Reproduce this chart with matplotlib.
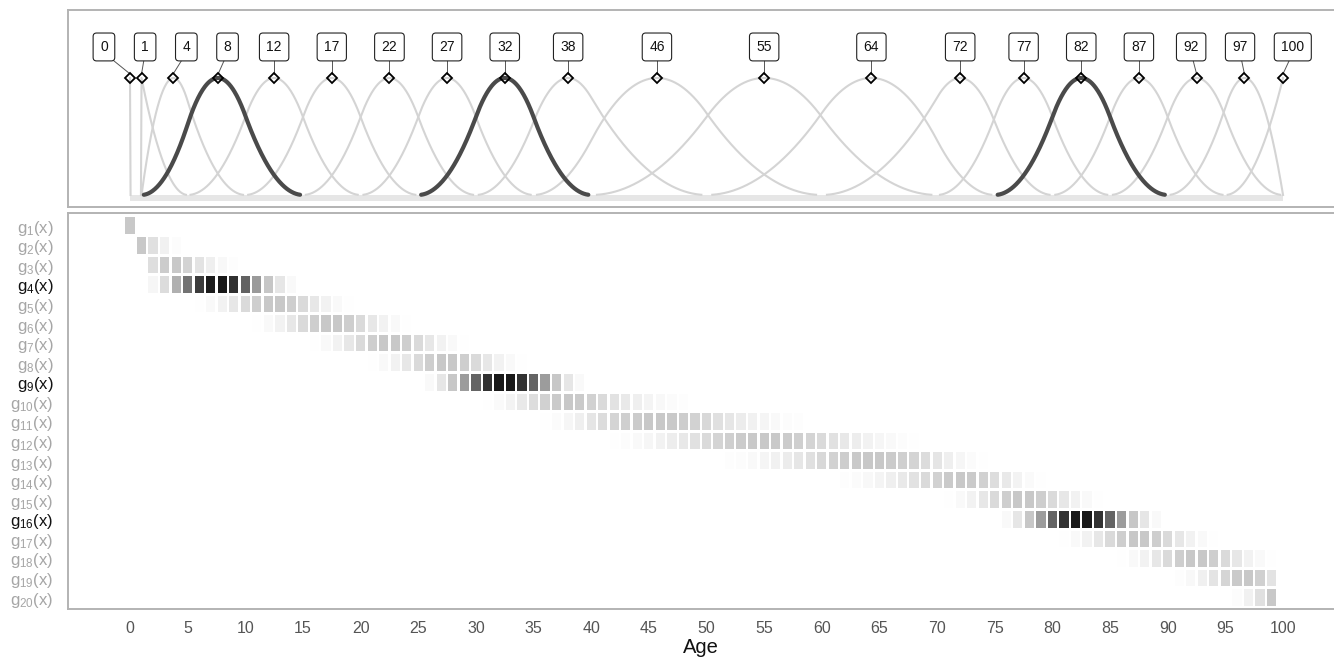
import numpy as np
import matplotlib
matplotlib.use("Agg")
import matplotlib.pyplot as plt

plt.rcParams['font.family'] = ['Liberation Sans', 'DejaVu Sans']
plt.rcParams['mathtext.fontset'] = 'custom'
plt.rcParams['mathtext.rm'] = 'Liberation Sans'
plt.rcParams['mathtext.it'] = 'Liberation Sans'

# ages shown in the heatmap
ages = np.arange(0, 100)
# label over each basis function (age at its peak)
peak_labels = [0, 1, 4, 8, 12, 17, 22, 27, 32, 38, 46, 55, 64, 72, 77, 82, 87, 92, 97, 100]
# quadratic b-spline on [1, 100], g1 is the age-0 indicator
spline_degree = 2
spline_bounds = [1, 100]
inner_knots = [5, 10, 15, 20, 25, 30, 35, 40, 50, 60, 70, 75, 80, 85, 90, 95]
highlight = [4, 9, 16]
xticks = list(range(0, 101, 5))


def bspline_basis(x, t, k):
    t = np.asarray(t, float)
    B = np.zeros((len(x), len(t) - 1))
    for i in range(len(t) - 1):
        B[:, i] = (x >= t[i]) & (x < t[i + 1])
    last = np.nonzero(t[:-1] < t[1:])[0].max()
    B[x == t[-1], last] = 1
    for d in range(1, k + 1):
        Bn = np.zeros((len(x), len(t) - 1 - d))
        for i in range(len(t) - 1 - d):
            if t[i + d] > t[i]:
                Bn[:, i] += (x - t[i]) / (t[i + d] - t[i]) * B[:, i]
            if t[i + d + 1] > t[i + 1]:
                Bn[:, i] += (t[i + d + 1] - x) / (t[i + d + 1] - t[i + 1]) * B[:, i + 1]
        B = Bn
    return B


def basis(x):
    k = spline_degree
    knots = [spline_bounds[0]] * (k + 1) + inner_knots + [spline_bounds[1]] * (k + 1)
    bs = bspline_basis(x, knots, k)
    g1 = (x == 0).astype(float)
    out = np.column_stack([g1, bs])
    return out / out.max(axis=0)


xs = np.linspace(0, 100, 2001)
curves = basis(xs)
cells = basis(ages.astype(float))
n = curves.shape[1]

fig = plt.figure(figsize=(13.34, 6.62), dpi=100)
xlim = (-5.42, 104.42)
ax1 = fig.add_axes([0.0506, 0.6873, 0.9494, 0.2976])
ax2 = fig.add_axes([0.0506, 0.0801, 0.9494, 0.5982])

for ax in (ax1, ax2):
    ax.set_xlim(*xlim)
    for s in ax.spines.values():
        s.set_color('#b3b3b3')
        s.set_linewidth(1.4)
    ax.spines['right'].set_visible(False)

##### top panel: basis curves #####
ax1.set_ylim(-0.103, 1.581)
ax1.set_xticks([])
ax1.set_yticks([])
ax1.plot([0, 100], [-0.026, -0.026], color='#e6e6e6', lw=4.3, solid_capstyle='butt', zorder=1)

order = [i for i in range(n) if i + 1 not in highlight] + [i - 1 for i in highlight]
for i in order:
    y = curves[:, i]
    keep = y > 0.002
    keep = keep | np.roll(keep, 1) | np.roll(keep, -1)
    yy = np.where(keep, y, np.nan)
    if i + 1 in highlight:
        ax1.plot(xs, yy, color='#4a4a4a', lw=3.0, zorder=3, solid_capstyle='round')
    else:
        ax1.plot(xs, yy, color='#d4d4d4', lw=1.5, zorder=2)

peaks_x = xs[np.argmax(curves, axis=0)]
ax1.plot(peaks_x, np.ones(n), ls='none', marker='D', ms=5.2, mfc='none',
         mec='black', mew=1.3, zorder=5)

# push label boxes apart (least squares with minimum gaps, pool adjacent violators)
px_per_age = 1334 * 0.9494 / (xlim[1] - xlim[0])
widths = np.array([(len(str(l)) * 7.7 + 16) / px_per_age for l in peak_labels])
gap = 17.5 / px_per_age
need = np.concatenate([[0], np.cumsum((widths[:-1] + widths[1:]) / 2 + gap)])
target = peaks_x - need
blocks = []
for v in target:
    blocks.append([v, 1])
    while len(blocks) > 1 and blocks[-2][0] / blocks[-2][1] > blocks[-1][0] / blocks[-1][1]:
        s, c = blocks.pop()
        blocks[-1][0] += s
        blocks[-1][1] += c
fit = np.concatenate([[s / c] * c for s, c in blocks])
box_x = fit + need

box_y = 1.265
for i, lab in enumerate(peak_labels):
    ax1.plot([box_x[i], peaks_x[i]], [box_y - 0.05, 1.035], color='#555555', lw=0.7, zorder=4)
    ax1.text(box_x[i], box_y, str(lab), ha='center', va='center', fontsize=10, color='#111111',
             zorder=6, bbox=dict(boxstyle='round,pad=0.5,rounding_size=0.25', fc='white',
                                 ec='#222222', lw=0.8))

##### bottom panel: heatmap of basis values at each age #####
ax2.set_ylim(19.58, -0.65)
for i in range(n):
    v = cells[:, i]
    m = v > 0.005
    if i + 1 in highlight:
        top = 25 / 255
    else:
        top = 200 / 255
    c = 1 - v[m] * (1 - top)
    cols = np.column_stack([c, c, c])
    ax2.bar(ages[m], 0.85, bottom=i - 0.425, width=0.8, color=cols, linewidth=0, zorder=2)

ax2.set_yticks(range(n))
ax2.set_yticklabels([r'$\mathrm{g_{%d}(x)}$' % (i + 1) for i in range(n)])
for i, t in enumerate(ax2.get_yticklabels()):
    t.set_color('#111111' if i + 1 in highlight else '#a6a6a6')
ax2.tick_params(axis='y', length=0, pad=10, labelsize=12)
ax2.set_xticks(xticks)
ax2.tick_params(axis='x', length=0, pad=9, labelsize=11.5, labelcolor='#555555')
ax2.set_xlabel('Age', fontsize=14.5, color='#111111', labelpad=1)

fig.savefig('out.png', dpi=100)
